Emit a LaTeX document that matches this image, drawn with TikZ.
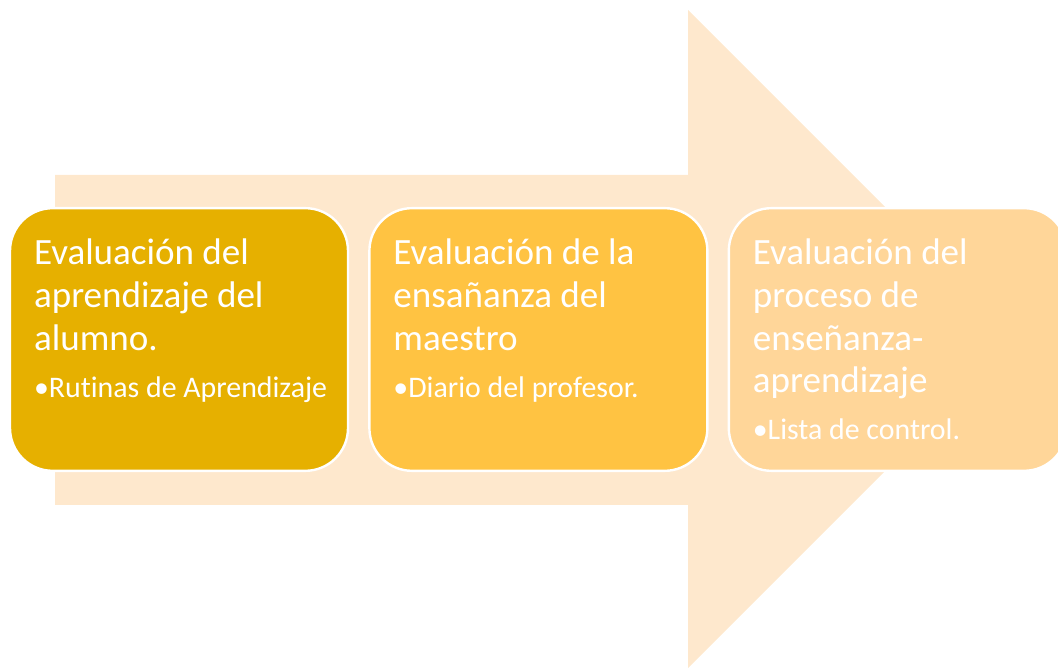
\documentclass[tikz,border=0pt]{standalone}
\usepackage{fontspec}
\setmainfont{Carlito}[Ligatures={NoCommon}]
\usepackage{xcolor}
\usetikzlibrary{positioning}

\definecolor{arrowfill}{RGB}{254,232,205}
\definecolor{stageone}{RGB}{230,176,0}
\definecolor{stagetwo}{RGB}{255,195,66}
\definecolor{stagethree}{RGB}{255,214,153}

\begin{document}
\begin{tikzpicture}[
    x=0.75pt, y=0.75pt,
    node distance=14.25pt,
    stage/.style={rectangle, draw=white, line width=1.8pt, rounded corners=32pt, minimum width=253.5pt, minimum height=197pt, inner sep=0pt},
    title/.style={anchor=north west, inner sep=0pt, align=left, text=white, font=\fontsize{27.8}{32}\selectfont},
    item/.style={anchor=base west, inner sep=0pt, text=white, font=\fontsize{22.4}{26}\selectfont}
]
\useasboundingbox (0,0) rectangle (1058,668);

% big background arrow
\fill[arrowfill] (55,163) -- (688,163) -- (688,0) -- (1017,329) -- (688,658) -- (688,493) -- (55,493) -- cycle;

\node[stage, fill=stageone] (alumno) at (179,328.5) {};
\node[stage, fill=stagetwo, right=of alumno] (maestro) {};
\node[stage, fill=stagethree, right=of maestro] (proceso) {};

\node[title] (talumno) at ([xshift=18.75pt, yshift=-24pt]alumno.north west) {Evaluación del\\aprendizaje del\\alumno.};
\node[item] (ialumno) at ([xshift=18.75pt, yshift=-143pt]alumno.north west) {•Rutinas de Aprendizaje};

\node[title] (tmaestro) at ([xshift=18.75pt, yshift=-24pt]maestro.north west) {Evaluación de la\\ensañanza del\\maestro};
\node[item] (imaestro) at ([xshift=18.75pt, yshift=-143pt]maestro.north west) {•Diario del profesor.};

\node[title] (tproceso) at ([xshift=18.75pt, yshift=-24pt]proceso.north west) {Evaluación del\\proceso de\\enseñanza-\\aprendizaje};
\node[item] (iproceso) at ([xshift=18.75pt, yshift=-174.5pt]proceso.north west) {•Lista de control.};

\end{tikzpicture}
\end{document}
